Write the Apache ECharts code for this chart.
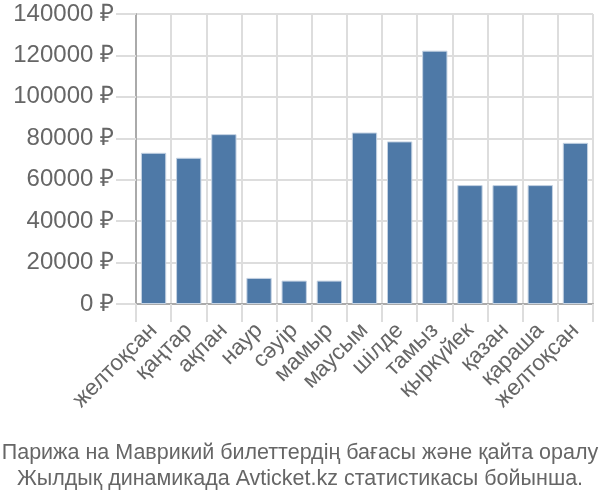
<!DOCTYPE html>
<html><head><meta charset="utf-8">
<script src="https://cdn.jsdelivr.net/npm/echarts@6/dist/echarts.min.js"></script>
<style>html,body{margin:0;padding:0;background:#fff}#c{width:600px;height:500px}</style>
</head><body><div id="c"></div>
<script>
const categories = ['желтоқсан','қаңтар','ақпан','наур','сәуір','мамыр','маусым','шілде','тамыз','қыркүйек','қазан','қараша','желтоқсан'];
const prices = [73000, 70600, 82000, 12600, 11300, 11300, 82800, 78500, 122300, 57400, 57400, 57400, 77800];
const titleLines = ['Парижа на Маврикий билеттердің бағасы және қайта оралу', 'Жылдық динамикада Avticket.kz статистикасы бойынша.'];
const yMin = 0, yMax = 140000, yStep = 20000;

const font = 'Liberation Sans';
const chart = echarts.init(document.getElementById('c'), null, {renderer:'canvas'});
chart.setOption({
  animation: false,
  title: {
    text: titleLines.join('\n'), left: 'center', bottom: 3,
    textStyle: {fontFamily: font, fontSize: 21.5, fontWeight: 'normal', color: '#666', lineHeight: 26}
  },
  grid: {left: 136, right: 7, top: 14, bottom: 196, containLabel: false},
  xAxis: {
    type: 'category', data: categories,
    axisLine: {show: true, lineStyle: {color: '#aaa', width: 2}},
    axisTick: {show: true, length: 18, alignWithLabel: false, lineStyle: {color: '#ddd', width: 2}},
    splitLine: {show: true, lineStyle: {color: '#ddd', width: 2}},
    axisLabel: {rotate: 45, interval: 0, margin: 23, fontFamily: font, fontSize: 22.5, color: '#666'}
  },
  yAxis: {
    type: 'value', min: yMin, max: yMax, interval: yStep,
    axisLine: {show: true, lineStyle: {color: '#aaa', width: 2}},
    axisTick: {show: true, length: 20, lineStyle: {color: '#ddd', width: 2}},
    splitLine: {show: true, lineStyle: {color: '#ddd', width: 2}},
    axisLabel: {formatter: v => v + ' ₽', margin: 22, fontFamily: font, fontSize: 24, color: '#666'}
  },
  series: [{
    type: 'bar', data: prices, barCategoryGap: '28%',
    itemStyle: {color: '#4e79a7', borderColor: '#c5d3e3', borderWidth: 1}
  }]
});
</script></body></html>
